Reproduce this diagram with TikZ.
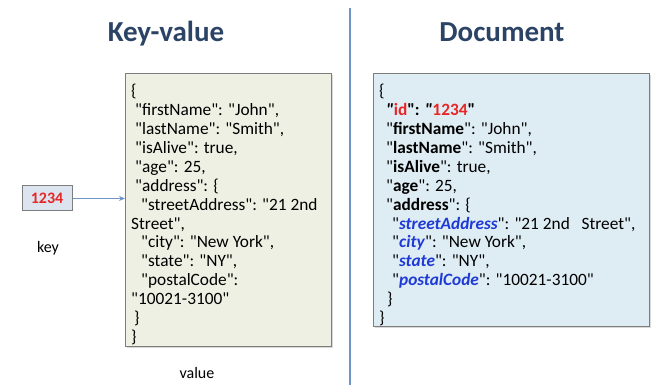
\documentclass[tikz,border=0pt]{standalone}
\usepackage{fontspec}
\setmainfont{Carlito}[Ligatures=TeXOff]
\usetikzlibrary{arrows.meta,shadows}

\definecolor{titleblue}{RGB}{43,68,102}
\definecolor{keyred}{RGB}{232,38,38}
\definecolor{fieldblue}{RGB}{30,58,214}
\definecolor{kvfill}{RGB}{238,240,227}
\definecolor{docfill}{RGB}{222,236,244}
\definecolor{keyfill}{RGB}{220,228,240}
\definecolor{edgegray}{RGB}{125,125,125}
\definecolor{linkblue}{RGB}{110,148,200}

% indent inside the json listings
\newcommand\pad[1]{\hspace*{#1pt}}
% bold key, and bold italic blue key for nested fields
\newcommand\bkey[1]{"\textbf{#1}"}
\newcommand\nkey[1]{"\textcolor{fieldblue}{\textbf{\textit{#1}}}"}

\begin{document}
\begin{tikzpicture}[x=1pt,y=-1pt,
    panel/.style={draw=edgegray,line width=1.1pt,inner sep=0pt,anchor=north west,
        drop shadow={shadow xshift=1.2pt,shadow yshift=-1.2pt,opacity=0.3}},
    listing/.style={anchor=north west,align=left,inner sep=0pt,
        font=\fontsize{17.3}{18.9}\selectfont},
    heading/.style={anchor=base,text=titleblue,font=\fontsize{29}{34}\selectfont\bfseries},
    caption/.style={anchor=base,font=\fontsize{16}{19}\selectfont}]
    \useasboundingbox (0,0) rectangle (654,385);

    % titles and the divider between them
    \node[heading] (kvtitle) at (166,42) {Key-value};
    \node[heading] (doctitle) at (502,42) {Document};
    \draw[linkblue,line width=2pt] (350,8)--(350,385);

    % key-value side
    \node[panel,fill=kvfill,minimum width=206,minimum height=273] (val) at (125,73) {};
    \node[listing] (valtext) at (131,84) {%
        \{\\
        \pad{4}"firstName": "John",\\
        \pad{4}"lastName": "Smith",\\
        \pad{4}"isAlive": true,\\
        \pad{4}"age": 25,\\
        \pad{4}"address": \{\\
        \pad{10}"streetAddress": "21 2nd\\
        Street",\\
        \pad{10}"city": "New York",\\
        \pad{10}"state": "NY",\\
        \pad{10}"postalCode":\\
        "10021-3100"\\
        \pad{3}\}\\
        \}};
    \node[draw=edgegray,line width=1pt,fill=keyfill,minimum width=50,minimum height=25,
        inner sep=0pt,text=keyred,font=\fontsize{16}{19}\selectfont\bfseries]
        (key) at (47,198.5) {1234};
    \draw[linkblue,line width=1.4pt,-{Stealth[length=6pt,width=5pt]}] (key.east)--(key.east -| val.west);
    \node[caption] (keylbl) at (48,253) {key};
    \node[caption] (vallbl) at (197,378) {value};

    % document side
    \node[panel,fill=docfill,minimum width=276,minimum height=253] (doc) at (373,73) {};
    \node[listing] (doctext) at (379,84) {%
        \{\\
        \pad{7}\textbf{\textit{"}\textcolor{keyred}{id}": \textit{"}\textcolor{keyred}{1234}"}\\
        \pad{7}\bkey{firstName}: "John",\\
        \pad{7}\bkey{lastName}: "Smith",\\
        \pad{7}\bkey{isAlive}: true,\\
        \pad{7}\bkey{age}: 25,\\
        \pad{7}\bkey{address}: \{\\
        \pad{13}\nkey{streetAddress}: "21 2nd \ \ Street",\\
        \pad{13}\nkey{city}: "New York",\\
        \pad{13}\nkey{state}: "NY",\\
        \pad{13}\nkey{postalCode}: "10021-3100"\\
        \pad{8}\}\\
        \}};
\end{tikzpicture}
\end{document}
